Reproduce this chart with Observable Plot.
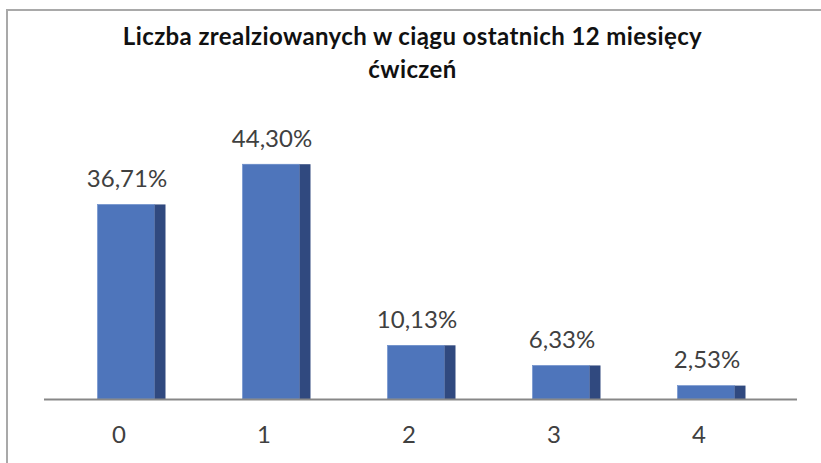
<!DOCTYPE html>
<html>
<head>
<meta charset="utf-8">
<script src="https://cdn.jsdelivr.net/npm/d3@7"></script>
<script src="https://cdn.jsdelivr.net/npm/@observablehq/plot@0.6"></script>
<style>
  html, body { margin: 0; padding: 0; background: #fff; }
  #wrap { position: relative; width: 821px; height: 463px; overflow: hidden; font-family: Lato, "Open Sans", sans-serif; }
  #frame { position: absolute; left: 6px; top: 9px; width: 900px; height: 600px; border-left: 2px solid #a9a9a9; border-top: 2px solid #a9a9a9; }
  #title { position: absolute; left: 0; top: 18.5px; width: 825px; text-align: center; font-weight: bold; font-size: 24px; letter-spacing: 0.4px; line-height: 33px; color: #111; }
  #chart { position: absolute; left: 0; top: 0; }
</style>
</head>
<body>
<div id="wrap">
  <div id="frame"></div>
  <div id="title">Liczba zrealziowanych  w ciągu ostatnich 12 miesięcy<br>ćwiczeń</div>
  <div id="chart"></div>
</div>
<script>
const categories = ["0", "1", "2", "3", "4"];
const values = [36.71, 44.30, 10.13, 6.33, 2.53];
const valueLabels = ["36,71%", "44,30%", "10,13%", "6,33%", "2,53%"];

const data = categories.map((c, i) => ({cat: c, value: values[i], label: valueLabels[i]}));

const half = 72.5;
const chart = Plot.plot({
  width: 821,
  height: 463,
  marginLeft: 45.5,
  marginRight: 50.5,
  marginTop: 134,
  marginBottom: 64,
  style: {background: "transparent", fontFamily: "Lato, 'Open Sans', sans-serif"},
  x: {domain: categories, padding: 0, label: null},
  y: {domain: [0, 50], axis: null},
  marks: [
    Plot.barY(data, {x: "cat", y: "value", fill: "#4e75bb", stroke: "#6a8dcb", strokeWidth: 0.6, insetLeft: half - 21, insetRight: half - 36}),
    Plot.barY(data, {x: "cat", y: "value", fill: "#30497f", insetLeft: half + 36, insetRight: half - 47}),
    Plot.ruleY([0], {stroke: "#878787", strokeWidth: 2, insetLeft: -1.5, insetRight: -26.5}),
    Plot.text(data, {x: "cat", y: "value", text: "label", dx: 8, dy: -18, lineAnchor: "bottom", fontSize: 24, fill: "#404040"}),
    Plot.axisX({tickSize: 0, tickPadding: 26, fontSize: 24, color: "#404040", label: null})
  ]
});
document.getElementById("chart").appendChild(chart);
</script>
</body>
</html>
